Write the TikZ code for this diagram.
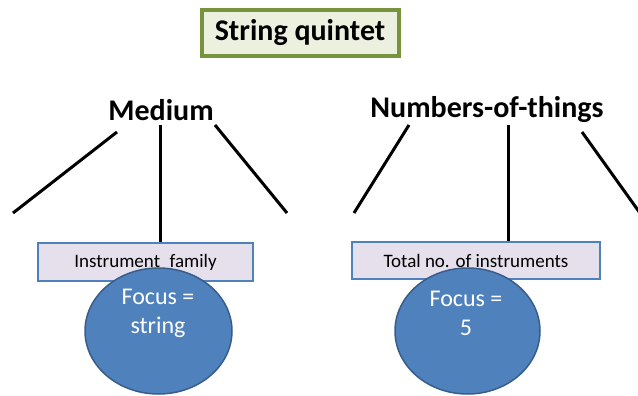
\documentclass[tikz,border=0pt]{standalone}
\usepackage{fontspec}
\setmainfont{Carlito}
\definecolor{titlegreen}{HTML}{77933C}
\definecolor{titlefill}{HTML}{EBF1DE}
\definecolor{boxblue}{HTML}{4F81BD}
\definecolor{boxfill}{HTML}{E6E0EC}
\definecolor{ellborder}{HTML}{385D8A}
\begin{document}
\begin{tikzpicture}[x=1pt,y=-1pt,
  titlebox/.style={draw=titlegreen,fill=titlefill,line width=4pt,minimum width=197pt,minimum height=46pt,inner sep=0pt,font=\fontsize{30}{33}\selectfont\bfseries},
  heading/.style={inner sep=0pt,font=\fontsize{30}{33}\selectfont\bfseries},
  branch/.style={line width=3pt,black},
  catbox/.style={draw=boxblue,fill=boxfill,line width=2pt,inner sep=0pt,font=\fontsize{19}{22}\selectfont},
  focusell/.style={draw=ellborder,fill=boxblue,line width=1.5pt},
  focustext/.style={text=white,font=\fontsize{24}{29}\selectfont,align=center,inner sep=0pt}
]
\useasboundingbox (0,0) rectangle (638,396);
\clip (0,0) rectangle (638,396);
\node[titlebox] (title) at (300,33) {String quintet};
\node[heading] (medium) at (161,110) {Medium};
\node[heading] (numbers) at (487,110) {Numbers-of-things};
\coordinate (mlt) at (117,132);
\coordinate (mlb) at (13,213);
\coordinate (mrt) at (215,125);
\coordinate (mrb) at (287,213);
\coordinate (nlt) at (409,125);
\coordinate (nlb) at (354,213);
\coordinate (nrt) at (582,132);
\coordinate (nrb) at (650,227);
\coordinate (mmt) at (160,125);
\coordinate (nmt) at (508,125);
\node[catbox,minimum width=215pt,minimum height=38pt] (fam) at (145.5,262) {Instrument\hspace{0.5em}family};
\node[catbox,minimum width=248pt,minimum height=37pt] (tot) at (476,260.5) {Total no. of instruments};
\draw[branch] (mlt) -- (mlb);
\draw[branch] (mrt) -- (mrb);
\draw[branch] (mmt) -- (mmt |- fam.north);
\draw[branch] (nlt) -- (nlb);
\draw[branch] (nrt) -- (nrb);
\draw[branch] (nmt) -- (nmt |- tot.north);
\draw[focusell] (158.5,331) ellipse [x radius=73.5, y radius=63];
\draw[focusell] (467.5,331) ellipse [x radius=72.5, y radius=63];
\node[focustext] (f1) at (158,313) {Focus =\\string};
\node[focustext] (f2) at (466,313) {Focus =\\5};
\end{tikzpicture}
\end{document}
